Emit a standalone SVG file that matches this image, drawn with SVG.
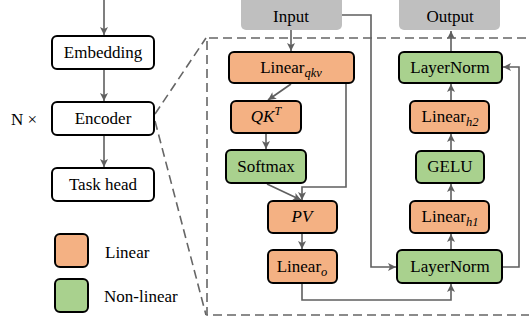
<svg xmlns="http://www.w3.org/2000/svg" width="529" height="323" viewBox="0 0 529 323" font-family="'Liberation Serif', 'DejaVu Serif', 'Times New Roman', serif">
<defs>
<marker id="ah" markerWidth="10" markerHeight="10" refX="8" refY="4" orient="auto" markerUnits="userSpaceOnUse">
<path d="M0,0 L8,4 L0,8 L2,4 z" fill="#5f5f5f"/>
</marker>
<style>
.box{stroke:#000;stroke-width:2;}
.plain{fill:#fff;}
.lin{fill:#f4b183;}
.nl{fill:#a9d18e;}
.io{fill:#bfbfbf;stroke:none;}
text{font-family:'Liberation Serif','DejaVu Serif','Times New Roman',serif;font-size:17px;fill:#000;}
.t{text-anchor:middle;}
.m{font-style:italic;}
.sub{font-style:italic;font-size:12.5px;}
.c{fill:none;stroke:#5f5f5f;stroke-width:1.6;}
.a{marker-end:url(#ah);}
.d{fill:none;stroke:#666;stroke-width:1.6;stroke-dasharray:9 5;}
</style>
</defs>
<g id="zoom-lines">
<path class="d" d="M155,114 L206,38"/>
<path class="d" d="M155,121 L206,315"/>
<path class="d" d="M540,38 H207 V315 H540"/>
</g>
<g id="connectors">
<path class="c a" d="M104,0 V35"/>
<path class="c a" d="M104,69 V101"/>
<path class="c a" d="M104,135 V167"/>
<path class="c a" d="M291,30 V51"/>
<path class="c a" d="M342,15 H371 V267 H396"/>
<path class="c a" d="M291,84 L268,100"/>
<path class="c a" d="M346,84 V187 H302 V200"/>
<path class="c a" d="M266,134 V149"/>
<path class="c a" d="M267,184 L301,200"/>
<path class="c a" d="M302,234 V249"/>
<path class="c a" d="M302,284 V300 H451 V284"/>
<path class="c a" d="M451,250 V234"/>
<path class="c a" d="M451,201 V184"/>
<path class="c a" d="M451,151 V134"/>
<path class="c a" d="M451,101 V84"/>
<path class="c a" d="M451,51 V31"/>
<path class="c a" d="M503,267 H519 V67 H503"/>
</g>
<g id="embedding"><rect class="box plain" x="52" y="36" width="102" height="33" rx="5"/><text class="t" x="103" y="58">Embedding</text></g>
<g id="encoder"><rect class="box plain" x="52" y="102" width="102" height="33" rx="5"/><text class="t" x="103" y="124">Encoder</text></g>
<text x="11" y="125">N ×</text>
<g id="task-head"><rect class="box plain" x="52" y="168" width="102" height="33" rx="5"/><text class="t" x="103" y="190">Task head</text></g>
<g id="legend-linear"><rect class="box lin" x="55" y="234" width="33" height="33" rx="5"/><text x="105" y="258">Linear</text></g>
<g id="legend-nonlinear"><rect class="box nl" x="55" y="279" width="33" height="33" rx="5"/><text x="104" y="302">Non-linear</text></g>
<g id="input"><rect class="io" x="241" y="-6" width="101" height="36" rx="5"/><text class="t" x="291" y="22">Input</text></g>
<g id="output"><rect class="io" x="399" y="-6" width="101" height="36" rx="5"/><text class="t" x="450" y="22">Output</text></g>
<g id="linear-qkv"><rect class="box lin" x="229" y="52" width="125" height="31" rx="5"/><text class="t" x="291" y="73">Linear<tspan class="sub" dy="4">qkv</tspan></text></g>
<g id="qkt"><rect class="box lin" x="231" y="101" width="70" height="32" rx="5"/><text class="t m" x="266" y="122">QK<tspan font-size="12" dy="-7">T</tspan></text></g>
<g id="softmax"><rect class="box nl" x="226" y="150" width="80" height="33" rx="5"/><text class="t" x="266" y="172">Softmax</text></g>
<g id="pv"><rect class="box lin" x="268" y="201" width="69" height="32" rx="5"/><text class="t m" x="302" y="222">PV</text></g>
<g id="linear-o"><rect class="box lin" x="268" y="250" width="69" height="33" rx="5"/><text class="t" x="302" y="272">Linear<tspan class="sub" dy="4">o</tspan></text></g>
<g id="layernorm-top"><rect class="box nl" x="399" y="52" width="103" height="31" rx="5"/><text class="t" x="450" y="73">LayerNorm</text></g>
<g id="linear-h2"><rect class="box lin" x="410" y="101" width="79" height="32" rx="5"/><text class="t" x="450" y="122">Linear<tspan class="sub" dy="4">h2</tspan></text></g>
<g id="gelu"><rect class="box nl" x="416" y="151" width="68" height="32" rx="5"/><text class="t" x="450" y="172">GELU</text></g>
<g id="linear-h1"><rect class="box lin" x="410" y="201" width="79" height="32" rx="5"/><text class="t" x="450" y="222">Linear<tspan class="sub" dy="4">h1</tspan></text></g>
<g id="layernorm-bottom"><rect class="box nl" x="397" y="250" width="105" height="33" rx="5"/><text class="t" x="450" y="272">LayerNorm</text></g>
</svg>
